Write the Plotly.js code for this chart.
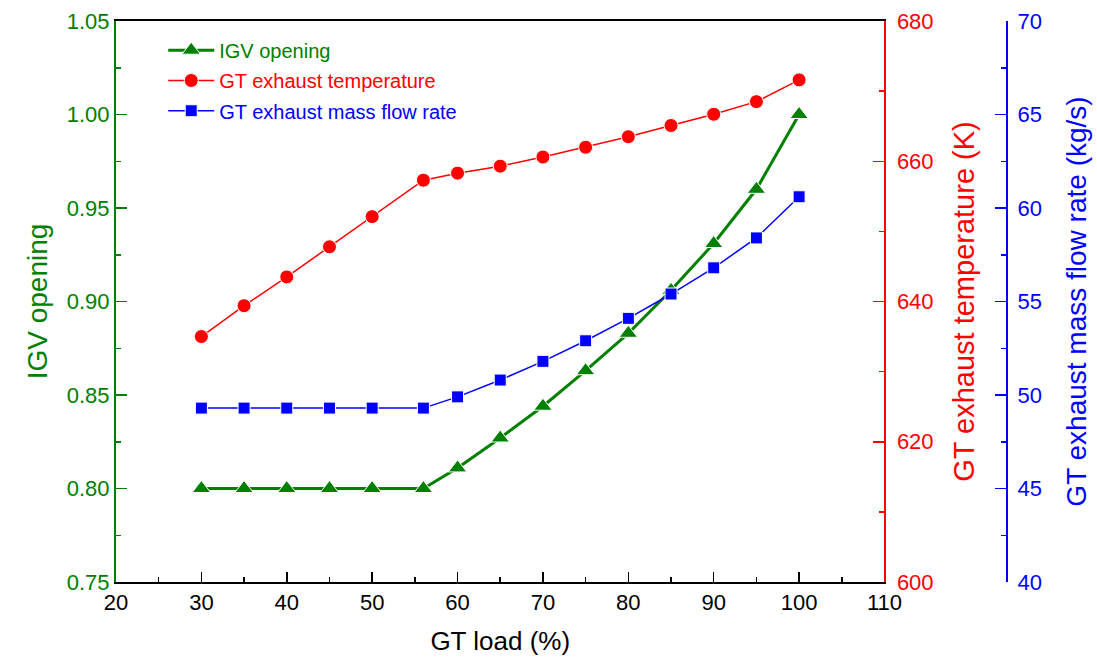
<!DOCTYPE html>
<html>
<head>
<meta charset="utf-8">
<script src="https://cdn.plot.ly/plotly-3.0.1.min.js"></script>
<style>
  html, body { margin: 0; padding: 0; background: #fff; }
  #chart { width: 1097px; height: 664px; }
</style>
</head>
<body>
<div id="chart"></div>
<script>
// GT part-load operating data
const gtLoad = [30, 35, 40, 45, 50, 56, 60, 65, 70, 75, 80, 85, 90, 95, 100];
const igvOpening = [0.800, 0.800, 0.800, 0.800, 0.800, 0.800, 0.811, 0.827, 0.844, 0.863, 0.883, 0.906, 0.931, 0.960, 1.000];
const exhaustTemp = [635.0, 639.4, 643.5, 647.8, 652.1, 657.3, 658.3, 659.3, 660.6, 662.0, 663.5, 665.1, 666.7, 668.5, 671.6];
const exhaustFlow = [49.3, 49.3, 49.3, 49.3, 49.3, 49.3, 49.9, 50.8, 51.8, 52.9, 54.1, 55.4, 56.8, 58.4, 60.6];

const seriesNames = ['IGV opening', 'GT exhaust temperature', 'GT exhaust mass flow rate'];
const xTitle = 'GT load (%)';
const yTitles = ['IGV opening', 'GT exhaust temperature (K)', 'GT exhaust mass flow rate (kg/s)'];

const GREEN = '#008000', RED = '#ff0000', BLUE = '#0000ff';
const FONT = 'Liberation Sans, Arial, Helvetica, sans-serif';

const traces = [
  {
    x: gtLoad, y: igvOpening, name: seriesNames[0], type: 'scatter', mode: 'lines+markers',
    yaxis: 'y', legend: 'legend',
    line: { color: GREEN, width: 3 },
    marker: { symbol: 'triangle-up', size: 16, color: GREEN, line: { color: '#ffffff', width: 1 } }
  },
  {
    x: gtLoad, y: exhaustTemp, name: seriesNames[1], type: 'scatter', mode: 'lines+markers',
    yaxis: 'y2', legend: 'legend2',
    line: { color: RED, width: 1.5 },
    marker: { symbol: 'circle', size: 14, color: RED, line: { color: '#ffffff', width: 1 } }
  },
  {
    x: gtLoad, y: exhaustFlow, name: seriesNames[2], type: 'scatter', mode: 'lines+markers',
    yaxis: 'y3', legend: 'legend3',
    line: { color: BLUE, width: 1.5 },
    marker: { symbol: 'square', size: 12, color: BLUE, line: { color: '#ffffff', width: 1 } }
  }
];

function legendAt(y, color) {
  return {
    x: 0.053, y: y, xanchor: 'left', yanchor: 'middle',
    bgcolor: 'rgba(0,0,0,0)', borderwidth: 0,
    itemwidth: 46,
    font: { family: FONT, size: 20, color: color }
  };
}

const tickFont = (c) => ({ family: FONT, size: 22, color: c });
const titleFont = (c, s) => ({ family: FONT, size: s, color: c });

const layout = {
  width: 1097, height: 664,
  margin: { l: 116, r: 90, t: 21, b: 82 },
  paper_bgcolor: '#ffffff', plot_bgcolor: '#ffffff',
  font: { family: FONT },
  showlegend: true,
  legend: legendAt(0.948, GREEN),
  legend2: legendAt(0.894, RED),
  legend3: legendAt(0.840, BLUE),
  xaxis: {
    domain: [0, 0.8625], range: [20, 110], dtick: 10, tick0: 20,
    showgrid: false, zeroline: false,
    showline: true, linecolor: '#000000', linewidth: 2, mirror: true,
    ticks: 'inside', ticklen: 10, tickwidth: 1.5, tickcolor: '#000000',
    minor: { ticks: 'inside', ticklen: 5, tickwidth: 1.5, tickcolor: '#000000', dtick: 5 },
    tickfont: tickFont('#000000'),
    title: { text: xTitle, font: titleFont('#000000', 26), standoff: 17 }
  },
  yaxis: {
    range: [0.75, 1.05], dtick: 0.05, tick0: 0.75, tickformat: '.2f',
    showgrid: false, zeroline: false,
    showline: true, linecolor: GREEN, linewidth: 2,
    ticks: 'inside', ticklen: 11, tickwidth: 1.5, tickcolor: GREEN,
    minor: { ticks: 'inside', ticklen: 5, tickwidth: 1.5, tickcolor: GREEN, dtick: 0.025 },
    tickfont: tickFont(GREEN),
    title: { text: yTitles[0], font: titleFont(GREEN, 28), standoff: 11 }
  },
  yaxis2: {
    overlaying: 'y', side: 'right', anchor: 'x',
    range: [600, 680], dtick: 20, tick0: 600,
    showgrid: false, zeroline: false,
    showline: true, linecolor: RED, linewidth: 2,
    ticks: 'inside', ticklen: 11, tickwidth: 1.5, tickcolor: RED,
    minor: { ticks: 'inside', ticklen: 5, tickwidth: 1.5, tickcolor: RED, dtick: 10 },
    tickfont: tickFont(RED), ticklabelstandoff: 6,
    title: { text: yTitles[1], font: titleFont(RED, 29), standoff: 21 }
  },
  yaxis3: {
    overlaying: 'y', side: 'right', anchor: 'free', position: 1.0,
    range: [40, 70], dtick: 5, tick0: 40,
    showgrid: false, zeroline: false,
    showline: true, linecolor: BLUE, linewidth: 2,
    ticks: 'inside', ticklen: 11, tickwidth: 1.5, tickcolor: BLUE,
    minor: { ticks: 'inside', ticklen: 5, tickwidth: 1.5, tickcolor: BLUE, dtick: 2.5 },
    tickfont: tickFont(BLUE), ticklabelstandoff: 5,
    title: { text: yTitles[2], font: titleFont(BLUE, 28), standoff: 25 }
  }
};

Plotly.newPlot('chart', traces, layout, { displayModeBar: false, staticPlot: true });
</script>
</body>
</html>
